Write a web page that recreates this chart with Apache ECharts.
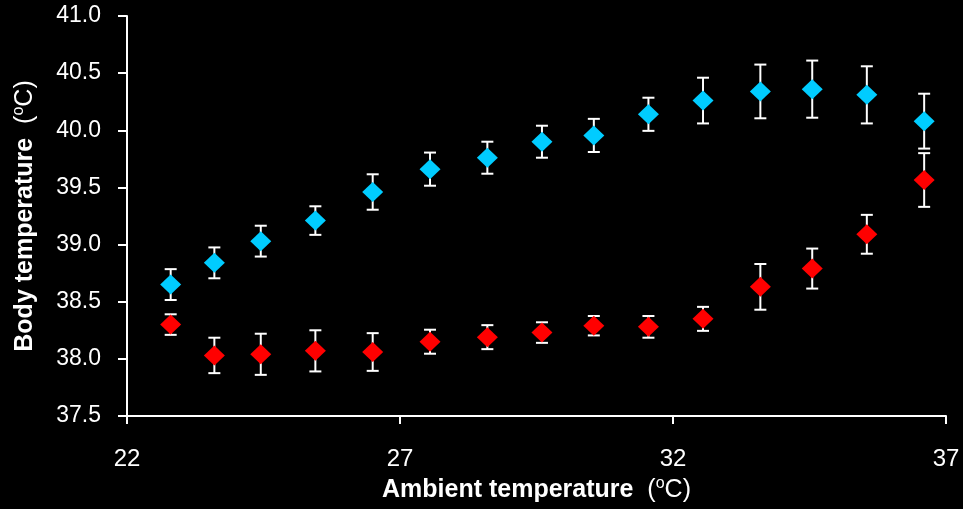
<!DOCTYPE html>
<html>
<head>
<meta charset="utf-8">
<script src="https://cdn.jsdelivr.net/npm/echarts@6/dist/echarts.min.js"></script>
<style>html,body{margin:0;padding:0;background:#000;}#c{width:963px;height:509px;}</style>
</head>
<body>
<div id="c"></div>
<script>
const ambientTemp = [22.8, 23.6, 24.45, 25.45, 26.5, 27.55, 28.6, 29.6, 30.55, 31.55, 32.55, 33.6, 34.55, 35.55, 36.6];
const cyanMean = [38.65, 38.84, 39.03, 39.21, 39.46, 39.66, 39.76, 39.90, 39.955, 40.14, 40.26, 40.34, 40.36, 40.31, 40.08];
const cyanErr  = [0.135, 0.135, 0.135, 0.125, 0.155, 0.145, 0.14, 0.14, 0.145, 0.145, 0.2, 0.235, 0.25, 0.25, 0.24];
const redMean  = [38.30, 38.03, 38.04, 38.07, 38.06, 38.15, 38.19, 38.23, 38.29, 38.28, 38.35, 38.63, 38.79, 39.09, 39.565];
const redErr   = [0.09, 0.155, 0.18, 0.18, 0.165, 0.105, 0.105, 0.09, 0.085, 0.095, 0.105, 0.2, 0.175, 0.17, 0.235];
const xTicks = [22, 27, 32, 37];
const yTicks = [37.5, 38.0, 38.5, 39.0, 39.5, 40.0, 40.5, 41.0];

const chart = echarts.init(document.getElementById('c'));
const font = 'Liberation Sans, Arial, sans-serif';

function pts(means) { return ambientTemp.map((x, i) => [x, means[i]]); }
function errData(means, errs) { return ambientTemp.map((x, i) => [x, means[i] - errs[i], means[i] + errs[i]]); }

function errRender(params, api) {
  const x = api.value(0);
  const lo = api.coord([x, api.value(1)]);
  const hi = api.coord([x, api.value(2)]);
  const cap = 6;
  const st = { stroke: '#ffffff', lineWidth: 2 };
  return {
    type: 'group',
    children: [
      { type: 'line', shape: { x1: lo[0], y1: lo[1], x2: hi[0], y2: hi[1] }, style: st },
      { type: 'line', shape: { x1: lo[0] - cap, y1: lo[1], x2: lo[0] + cap, y2: lo[1] }, style: st },
      { type: 'line', shape: { x1: hi[0] - cap, y1: hi[1], x2: hi[0] + cap, y2: hi[1] }, style: st }
    ]
  };
}

const titleRich = {
  b: { fontSize: 25, fontWeight: 'bold', color: '#ffffff', fontFamily: font, lineHeight: 28 },
  n: { fontSize: 25, color: '#ffffff', fontFamily: font, lineHeight: 28 },
  s: { fontSize: 16, color: '#ffffff', fontFamily: font, lineHeight: 28, verticalAlign: 'top', padding: [0, 0, 12, 0] }
};

chart.setOption({
  backgroundColor: '#000000',
  animation: false,
  grid: { left: 127, width: 819, top: 16, height: 404, containLabel: false },
  xAxis: {
    type: 'value', min: xTicks[0], max: xTicks[xTicks.length - 1], interval: 5,
    axisLine: { show: true, onZero: false, lineStyle: { color: '#ffffff', width: 2 } },
    axisTick: { show: true, inside: false, length: 8, lineStyle: { color: '#ffffff', width: 2 } },
    axisLabel: { color: '#ffffff', fontSize: 24, fontFamily: font, margin: 31 },
    splitLine: { show: false },
    name: '{b|Ambient temperature}{n|  (}{s|o}{n|C)}',
    nameLocation: 'middle', nameGap: 60,
    nameTextStyle: { color: '#ffffff', fontFamily: font, rich: titleRich }
  },
  yAxis: {
    type: 'value', min: yTicks[0], max: yTicks[yTicks.length - 1], interval: 0.5,
    axisLine: { show: true, onZero: false, lineStyle: { color: '#ffffff', width: 2 } },
    axisTick: { show: true, inside: false, length: 9, lineStyle: { color: '#ffffff', width: 2 } },
    axisLabel: { color: '#ffffff', fontSize: 23, fontFamily: font, margin: 26, formatter: v => v.toFixed(1) },
    splitLine: { show: false },
    name: '{b|Body temperature}{n|  (}{s|o}{n|C)}',
    nameLocation: 'middle', nameGap: 88, nameRotate: 90,
    nameTextStyle: { color: '#ffffff', fontFamily: font, rich: titleRich }
  },
  series: [
    { type: 'custom', name: 'cyanErr', renderItem: errRender, data: errData(cyanMean, cyanErr), z: 1, encode: { x: 0, y: [1, 2] } },
    { type: 'custom', name: 'redErr', renderItem: errRender, data: errData(redMean, redErr), z: 1, encode: { x: 0, y: [1, 2] } },
    { type: 'scatter', name: 'cyan', data: pts(cyanMean), symbol: 'diamond', symbolSize: [21, 20], itemStyle: { color: '#00CCFF', opacity: 1 }, z: 3 },
    { type: 'scatter', name: 'red', data: pts(redMean), symbol: 'diamond', symbolSize: [21, 20], itemStyle: { color: '#FF0000', opacity: 1 }, z: 3 }
  ]
});
</script>
</body>
</html>
